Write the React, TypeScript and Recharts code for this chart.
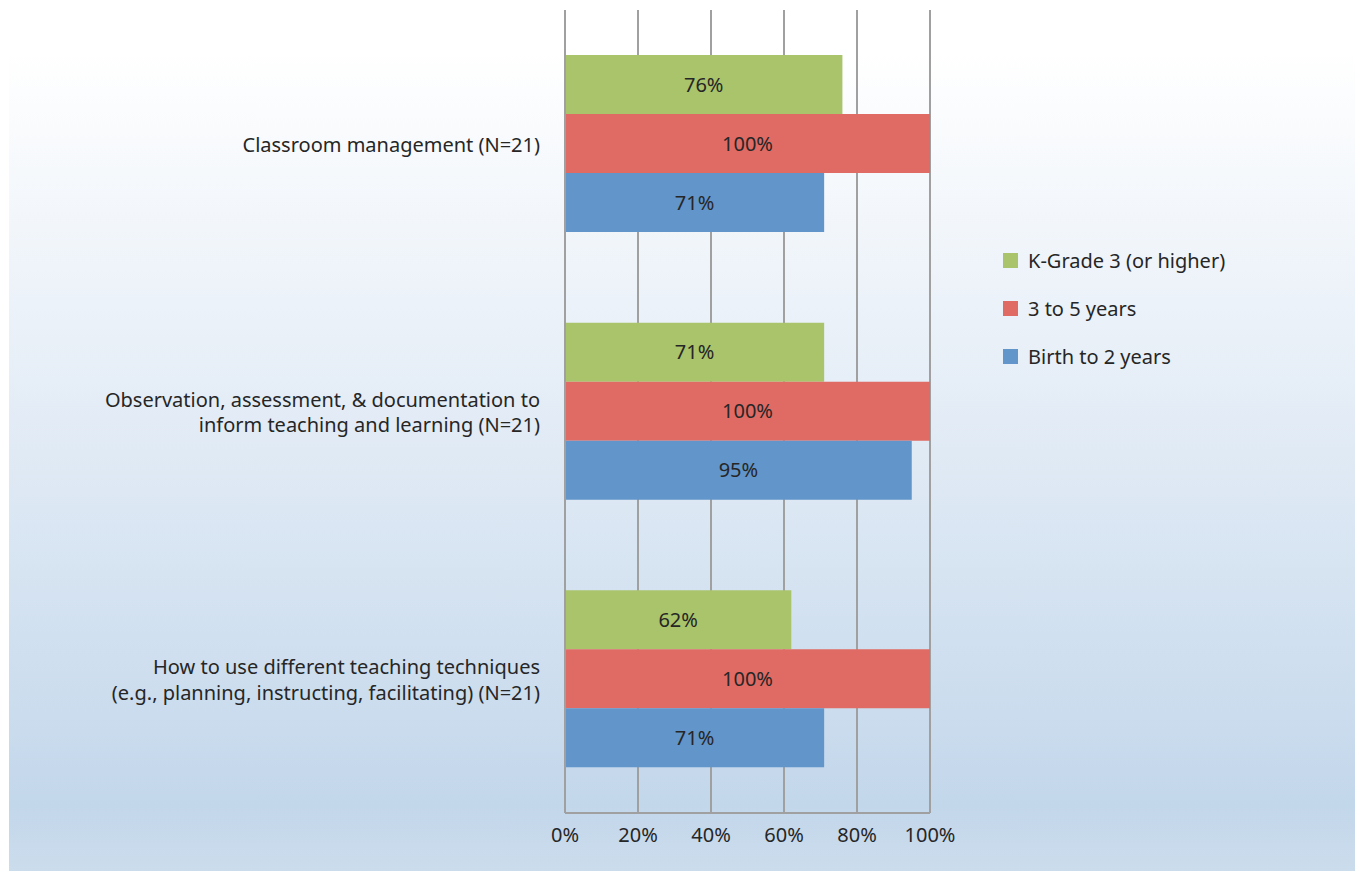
import { BarChart, Bar, XAxis, YAxis, CartesianGrid, LabelList } from "recharts";

const categories = [
  "Classroom management (N=21)",
  "Observation, assessment, & documentation to\ninform teaching and learning (N=21)",
  "How to use different teaching techniques\n(e.g., planning, instructing, facilitating) (N=21)",
];
const kGrade3 = [76, 71, 62];
const threeToFive = [100, 100, 100];
const birthToTwo = [71, 95, 71];
const xTicks = [0, 20, 40, 60, 80, 100];

const series = [
  { key: "kGrade3", name: "K-Grade 3 (or higher)", color: "#a9c46b" },
  { key: "threeToFive", name: "3 to 5 years", color: "#e06b65" },
  { key: "birthToTwo", name: "Birth to 2 years", color: "#6295c9" },
];

const data = categories.map((c, i) => ({
  category: c,
  kGrade3: kGrade3[i],
  threeToFive: threeToFive[i],
  birthToTwo: birthToTwo[i],
}));

const FONT = "'Noto Sans', sans-serif";
const FS = 20;

function CategoryTick({ x, y, payload }: any) {
  const lines = String(payload.value).split("\n");
  const lh = 25.5;
  const start = y - ((lines.length - 1) * lh) / 2 + 1;
  return (
    <text x={x - 17} y={start} textAnchor="end" fill="#262626" fontSize={FS} fontFamily={FONT}>
      {lines.map((l, i) => (
        <tspan key={i} x={x - 17} y={start + i * lh} dy="0.35em">
          {l}
        </tspan>
      ))}
    </text>
  );
}

export default function App() {
  return (
    <div style={{ position: "absolute", left: 0, top: 0, width: 1355, height: 871, background: "#fff" }}>
      <div
        style={{
          position: "absolute",
          left: 9,
          top: 52,
          width: 1346,
          height: 819,
          background: "linear-gradient(to bottom, #ffffff 0%, #e6eef7 40%, #c3d7eb 92%, #cbdcec 100%)",
        }}
      />
      <div style={{ position: "absolute", left: 0, top: 0 }}>
        <BarChart
          width={1355}
          height={871}
          data={data}
          layout="vertical"
          margin={{ top: 10, right: 425, bottom: 0, left: 0 }}
          barGap={0}
          barCategoryGap={45}
        >
          <CartesianGrid horizontal={false} stroke="#a0a0a0" strokeWidth={2} />
          <XAxis
            type="number"
            domain={[0, 100]}
            ticks={xTicks}
            interval={0}
            tickFormatter={(v) => `${v}%`}
            axisLine={{ stroke: "#a0a0a0", strokeWidth: 2 }}
            tickLine={false}
            tick={{ fill: "#262626", fontSize: FS, fontFamily: FONT }}
            tickMargin={9}
            height={58}
          />
          <YAxis
            type="category"
            dataKey="category"
            width={565}
            axisLine={{ stroke: "#a0a0a0", strokeWidth: 2 }}
            tickLine={false}
            tick={<CategoryTick />}
          />
          {series.map((s) => (
            <Bar key={s.key} dataKey={s.key} name={s.name} fill={s.color} isAnimationActive={false}>
              <LabelList
                dataKey={s.key}
                position="center"
                formatter={(v: any) => `${v}%`}
                fill="#262626"
                fontSize={FS}
                fontFamily={FONT}
              />
            </Bar>
          ))}
        </BarChart>
      </div>
      <div
        style={{
          position: "absolute",
          left: 1003,
          top: 236,
          fontFamily: FONT,
          fontSize: FS,
          color: "#262626",
        }}
      >
        {series.map((s) => (
          <div key={s.key} style={{ display: "flex", alignItems: "center", height: 48 }}>
            <span style={{ width: 15, height: 15, background: s.color, marginRight: 10 }} />
            <span>{s.name}</span>
          </div>
        ))}
      </div>
    </div>
  );
}
